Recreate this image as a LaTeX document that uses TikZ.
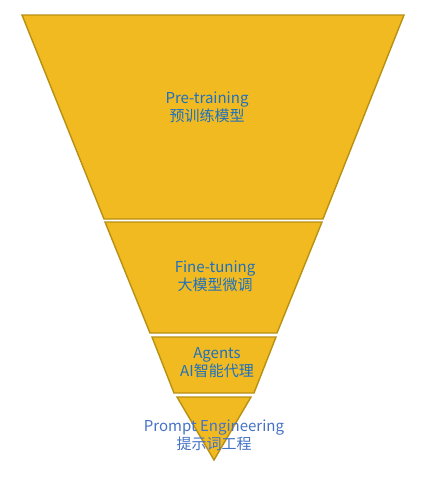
\documentclass[tikz,border=0pt]{standalone}
\usepackage{fontspec}
\setmainfont{Noto Sans CJK SC}
\definecolor{funnelgold}{RGB}{240, 186, 32}
\definecolor{funneledge}{RGB}{184, 144, 18}
\definecolor{labelblue}{RGB}{30, 112, 192}
\definecolor{promptblue}{RGB}{68, 114, 196}
\usetikzlibrary{positioning}

\begin{document}
\begin{tikzpicture}[x=1pt, y=-1pt,
    layer/.style={fill=funnelgold, draw=funneledge, line width=1.4pt, line join=miter},
    layertext/.style={font=\fontsize{15}{18}\selectfont, text=labelblue, align=center, inner sep=0pt}]
  \useasboundingbox (0,0) rectangle (427,479);

  % Funnel layers
  \draw[layer] (22,15) -- (404,15) -- (323,219) -- (104,219) -- cycle;
  \draw[layer] (105,222) -- (322,222) -- (277,333) -- (150,333) -- cycle;
  \draw[layer] (152,337) -- (276,337) -- (254,393) -- (174,393) -- cycle;
  \draw[layer] (177,397) -- (251,397) -- (214,460) -- cycle;

  % Labels
  \node[layertext] (pretrain) at (207, 107) {Pre-training\\预训练模型};
  \node[layertext] (finetune) at (215, 276) {Fine-tuning\\大模型微调};
  \node[layertext] (agents) at (217, 363) {Agents\\AI智能代理};
  \node[layertext, text=promptblue] (prompt) at (214, 435) {Prompt Engineering\\提示词工程};
\end{tikzpicture}
\end{document}
